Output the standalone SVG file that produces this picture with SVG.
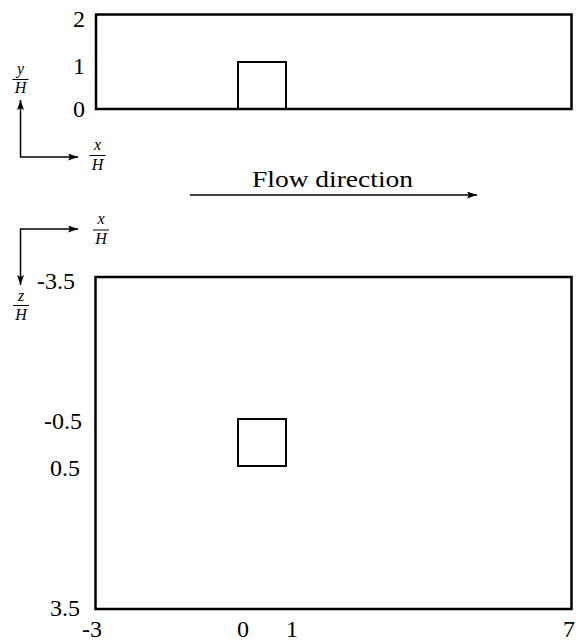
<svg xmlns="http://www.w3.org/2000/svg" width="576" height="641" viewBox="0 0 576 641">
<defs>
<marker id="ah" markerWidth="10" markerHeight="7" refX="10" refY="3.5" orient="auto" markerUnits="userSpaceOnUse">
<path d="M0,0 L10,3.5 L0,7 L2,3.5 Z" fill="#000"/>
</marker>
<style>
text{font-family:'Liberation Serif','Times New Roman','DejaVu Serif',serif}
.lbl{font-size:24px;fill:#000}
.flow{font-size:24px;fill:#000}
.mi{font-size:16px;font-style:italic;fill:#000;text-anchor:middle}
.box{fill:none;stroke:#000;stroke-width:2.5}
.blk{fill:none;stroke:#000;stroke-width:2}
.ax{fill:none;stroke:#000;stroke-width:1.5;marker-end:url(#ah)}
.bar{stroke:#000;stroke-width:1}
</style>
</defs>
<rect width="576" height="641" fill="#fff"/>
<g id="side-view">
<rect class="box" x="96" y="14.5" width="475.5" height="94.5"/>
<path class="blk" d="M238,109 V62 H286 V109"/>
<text class="lbl" x="85" y="26.5" text-anchor="end">2</text>
<text class="lbl" x="85" y="74" text-anchor="end">1</text>
<text class="lbl" x="85" y="117" text-anchor="end">0</text>
</g>
<g id="top-view">
<rect class="box" x="95.5" y="277" width="476" height="332"/>
<rect class="blk" x="238" y="419" width="48" height="47"/>
<text class="lbl" x="75" y="288.5" text-anchor="end">-3.5</text>
<text class="lbl" x="82" y="428.5" text-anchor="end">-0.5</text>
<text class="lbl" x="80" y="475.5" text-anchor="end">0.5</text>
<text class="lbl" x="80" y="615.5" text-anchor="end">3.5</text>
<text class="lbl" x="82" y="637">-3</text>
<text class="lbl" x="237" y="637">0</text>
<text class="lbl" x="286" y="637">1</text>
<text class="lbl" x="563" y="637">7</text>
</g>
<g id="flow-label">
<text class="flow" x="252" y="187" textLength="161" lengthAdjust="spacingAndGlyphs">Flow direction</text>
</g>
<g id="connectors">
<path class="ax" d="M20.5,157 V100"/>
<path class="ax" d="M20,157 H78"/>
<path class="ax" d="M190,195 H477"/>
<path class="ax" d="M20,229 H78"/>
<path class="ax" d="M20.5,229 V285"/>
</g>
<g id="axis-labels">
<text class="mi" x="20.5" y="74">y</text>
<line class="bar" x1="12.5" y1="79.5" x2="28.5" y2="79.5"/>
<text class="mi" x="20.5" y="92.5">H</text>
<text class="mi" x="97.5" y="150">x</text>
<line class="bar" x1="89.5" y1="155.5" x2="105.5" y2="155.5"/>
<text class="mi" x="97.5" y="169.5">H</text>
<text class="mi" x="101" y="224">x</text>
<line class="bar" x1="93" y1="230" x2="109" y2="230"/>
<text class="mi" x="101" y="243.5">H</text>
<text class="mi" x="21" y="301">z</text>
<line class="bar" x1="13" y1="305.5" x2="29" y2="305.5"/>
<text class="mi" x="21" y="320">H</text>
</g>
</svg>
